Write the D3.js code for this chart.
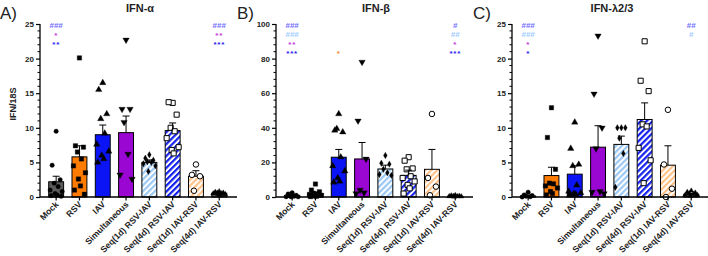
<!DOCTYPE html>
<html><head><meta charset="utf-8">
<script src="https://cdn.jsdelivr.net/npm/d3@7"></script>
<style>
body{margin:0;background:#fff;}
svg{display:block;font-family:"Liberation Sans",Arial,sans-serif;}
</style></head>
<body>
<svg id="chart" width="708" height="256"></svg>
<script>
// ---------- DATA ----------
const categories = ["Mock","RSV","IAV","Simultaneous","Seq(1d) RSV-IAV","Seq(4d) RSV-IAV","Seq(1d) IAV-RSV","Seq(4d) IAV-RSV"];

const alphaMean = [2.2, 5.8, 9.0, 9.3, 5.0, 9.6, 3.0, 0.55];
const alphaSem  = [0.8, 1.6, 1.4, 2.4, 0.35, 1.1, 0.8, 0.12];
const alphaPoints = [
  [9.5, 4.6, 2.5, 2.0, 1.5, 1.0, 0.8, 0.5, 0.3, 0.2, 0.1],
  [20.1, 7.4, 7.2, 6.5, 5.5, 4.5, 3.5, 2.6, 1.6, 1.0, 0.4],
  [16.5, 15.5, 12.0, 11.3, 9.2, 7.6, 6.6, 6.0, 5.5, 5.0],
  [22.7, 12.7, 12.7, 10.8, 6.2, 3.2, 2.6],
  [6.1, 5.6, 5.3, 5.1, 5.0, 4.8, 4.5, 3.7],
  [13.6, 13.7, 11.9, 10.0, 9.5, 8.5, 7.2, 6.8, 6.3],
  [4.7, 3.2, 3.0, 0.9],
  [0.8, 0.7, 0.6, 0.6, 0.5, 0.5, 0.4, 0.4, 0.3]
];
const alphaTicks = [0, 5, 10, 15, 20, 25];
const alphaSig = [
  ["Mock", 0, "###", "hash"], ["Mock", 1, "*", "mag"], ["Mock", 2, "**", "blue"],
  ["Seq(4d) IAV-RSV", 0, "###", "hash"], ["Seq(4d) IAV-RSV", 1, "**", "mag"], ["Seq(4d) IAV-RSV", 2, "***", "blue"]
];

const betaMean = [0.8, 2.0, 23.0, 22.0, 16.2, 12.5, 16.0, 0.5];
const betaSem  = [0.4, 0.7, 4.5, 9.5, 2.2, 3.0, 11.5, 0.2];
const betaPoints = [
  [2.5, 1.8, 1.0, 0.6, 0.4, 0.2, 0.1, 0.1],
  [7.5, 4.0, 3.0, 2.2, 1.8, 1.5, 1.0, 0.6, 0.4, 0.2],
  [48, 38.5, 37.5, 39.5, 23, 18, 15, 11, 9, 8.5],
  [78, 44, 22, 4, 2.5, 2],
  [24, 19.5, 19, 16, 14, 13, 12.5],
  [23, 21, 16.5, 16, 12, 11, 9, 7, 5, 2],
  [48, 11, 6, 1],
  [1.0, 0.8, 0.6, 0.5, 0.4, 0.4, 0.3, 0.2]
];
const betaTicks = [0, 20, 40, 60, 80, 100];
const betaSig = [
  ["Mock", 0, "###", "hash"], ["Mock", 1, "###", "light"], ["Mock", 2, "**", "mag"], ["Mock", 3, "***", "blue"],
  ["IAV", 3, "*", "orange"],
  ["Seq(4d) IAV-RSV", 0, "#", "hash"], ["Seq(4d) IAV-RSV", 1, "##", "light"], ["Seq(4d) IAV-RSV", 2, "*", "mag"], ["Seq(4d) IAV-RSV", 3, "***", "blue"]
];

const lambdaMean = [0.15, 3.1, 3.3, 7.2, 7.6, 11.2, 4.6, 0.4];
const lambdaSem  = [0.12, 1.2, 1.2, 3.1, 1.2, 2.4, 2.8, 0.1];
const lambdaPoints = [
  [0.7, 0.3, 0.2, 0.1, 0.05, 0.0],
  [12.9, 8.6, 4.0, 2.0, 1.9, 1.6, 1.3, 0.8, 0.5, 0.3],
  [10.8, 7.0, 4.7, 4.5, 1.7, 0.8, 0.6, 0.5, 0.4, 0.3],
  [23.3, 14.9, 10.0, 7.0, 0.8, 0.7, 0.5],
  [10.0, 10.0, 10.0, 8.5, 6.3, 1.4],
  [22.5, 16.8, 15.3, 10.5, 10.2, 7.1, 5.3, 2.0],
  [12.6, 4.7, 1.2, 0.0],
  [0.9, 0.7, 0.6, 0.5, 0.4, 0.3, 0.3, 0.2]
];
const lambdaTicks = [0, 5, 10, 15, 20, 25];
const lambdaSig = [
  ["Mock", 0, "###", "hash"], ["Mock", 1, "###", "light"], ["Mock", 2, "*", "mag"], ["Mock", 3, "*", "blue"],
  ["Seq(4d) IAV-RSV", 0, "##", "hash"], ["Seq(4d) IAV-RSV", 1, "#", "light"]
];

// ---------- STYLE ----------
const sigColors = {hash:"#6f6cff", light:"#9ecbff", mag:"#c236d6", blue:"#1f22f0", orange:"#f5861f"};
const barStyles = [
  {fill:"#5c5c5c"}, {fill:"#ff7c00"}, {fill:"#0a14f5"}, {fill:"#9a06d2"},
  {hatch:"#9cc8f4"}, {hatch:"#1420ee"}, {hatch:"#ffc38a"}, {fill:"#6a6a6a"}
];
const markers = [
  {type:d3.symbolCircle, size:16, open:false},
  {type:d3.symbolSquare, size:20, open:false},
  {type:d3.symbolTriangle, size:18, open:false},
  {type:d3.symbolTriangle, size:18, open:false, rot:180},
  {type:d3.symbolDiamond, size:12, open:false},
  {type:d3.symbolSquare, size:26, open:true},
  {type:d3.symbolCircle, size:24, open:true},
  {type:d3.symbolTriangle, size:12, open:false}
];
const jitter = [0, -4, 4, -2, 2, -6, 6, -1, 1, -5, 5, -3, 3];

const svg = d3.select("#chart");
const defs = svg.append("defs");
barStyles.forEach((s, i) => {
  if (!s.hatch) return;
  const p = defs.append("pattern").attr("id", "h" + i).attr("patternUnits", "userSpaceOnUse")
    .attr("width", 4.2).attr("height", 4.2).attr("patternTransform", "rotate(45)");
  p.append("rect").attr("width", 4.2).attr("height", 4.2).attr("fill", "#fff");
  p.append("rect").attr("width", 2.2).attr("height", 4.2).attr("fill", s.hatch);
});

const panels = [
  {label:"A)", title:"IFN-\u03b1", axisX:40, max:25, ticks:alphaTicks, minor:1, mean:alphaMean, sem:alphaSem, pts:alphaPoints, sig:alphaSig, lx:0, ylabel:true},
  {label:"B)", title:"IFN-\u03b2", axisX:276, max:100, ticks:betaTicks, minor:4, mean:betaMean, sem:betaSem, pts:betaPoints, sig:betaSig, lx:237},
  {label:"C)", title:"IFN-\u03bb2/3", axisX:512, max:25, ticks:lambdaTicks, minor:1, mean:lambdaMean, sem:lambdaSem, pts:lambdaPoints, sig:lambdaSig, lx:473}
];

const yBottom = 197, yTop = 24, step = 23.3, rowStep = 9;

panels.forEach(P => {
  const g = svg.append("g");
  const x = d3.scaleBand().domain(categories)
    .range([P.axisX + 4.5, P.axisX + 4.5 + step * categories.length]).paddingInner(0.36).paddingOuter(0.18);
  const y = d3.scaleLinear().domain([0, P.max]).range([yBottom, yTop]);
  const xc = c => x(c) + x.bandwidth() / 2;

  // panel label & title
  g.append("text").attr("x", P.lx).attr("y", 19).attr("font-size", 17).attr("fill", "#222").text(P.label);
  const midX = P.axisX + 100;
  g.append("text").attr("x", midX).attr("y", 12).attr("text-anchor", "middle")
    .attr("font-size", 11).attr("font-weight", "bold").attr("fill", "#222").text(P.title);

  // bars
  categories.forEach((c, i) => {
    const s = barStyles[i];
    const top = y(P.mean[i]);
    g.append("rect").attr("x", x(c)).attr("y", top).attr("width", x.bandwidth()).attr("height", yBottom - top)
      .attr("fill", s.hatch ? "url(#h" + i + ")" : s.fill).attr("stroke", "#000").attr("stroke-width", 1);
  });

  // points
  categories.forEach((c, i) => {
    const m = markers[i];
    const sym = d3.symbol().type(m.type).size(m.size);
    g.selectAll(null).data(P.pts[i]).enter().append("path")
      .attr("d", sym)
      .attr("transform", (v, k) => `translate(${xc(c) + jitter[k % jitter.length]},${y(v)})` + (m.rot ? ` rotate(${m.rot})` : ""))
      .attr("fill", m.open ? "#fff" : "#000").attr("stroke", "#000").attr("stroke-width", m.open ? 1 : 0.3);
  });

  // error bars (upper only)
  categories.forEach((c, i) => {
    const y1 = y(P.mean[i]), y2 = y(P.mean[i] + P.sem[i]);
    g.append("line").attr("x1", xc(c)).attr("x2", xc(c)).attr("y1", y1).attr("y2", y2).attr("stroke", "#000").attr("stroke-width", 1);
    g.append("line").attr("x1", xc(c) - 3.5).attr("x2", xc(c) + 3.5).attr("y1", y2).attr("y2", y2).attr("stroke", "#000").attr("stroke-width", 1);
  });

  // y axis
  const yAxis = d3.axisLeft(y).tickValues(P.ticks).tickSize(4).tickPadding(2);
  const ya = g.append("g").attr("transform", `translate(${P.axisX},0)`).call(yAxis);
  ya.select(".domain").attr("stroke", "#000").attr("stroke-width", 1.3).attr("d", `M0,${yBottom}V${yTop}`);
  ya.selectAll(".tick line").attr("stroke", "#000").attr("stroke-width", 1.2);
  ya.selectAll(".tick text").attr("font-size", 8).attr("font-weight", "bold").attr("fill", "#222").attr("font-family", "Liberation Sans, Arial, sans-serif");
  const minors = d3.range(0, P.max + 0.001, P.minor).filter(v => !P.ticks.includes(v));
  g.selectAll(null).data(minors).enter().append("line")
    .attr("x1", P.axisX - 2.5).attr("x2", P.axisX).attr("y1", d => y(d)).attr("y2", d => y(d))
    .attr("stroke", "#000").attr("stroke-width", 1);

  // x axis
  g.append("line").attr("x1", P.axisX).attr("x2", P.axisX + 197).attr("y1", yBottom).attr("y2", yBottom)
    .attr("stroke", "#000").attr("stroke-width", 1.3);
  categories.forEach(c => {
    g.append("line").attr("x1", xc(c)).attr("x2", xc(c)).attr("y1", yBottom).attr("y2", yBottom + 3.5).attr("stroke", "#000").attr("stroke-width", 1.2);
    g.append("text").attr("transform", `translate(${xc(c) + 3},${yBottom + 8}) rotate(-45)`)
      .attr("text-anchor", "end").attr("font-size", 8.7).attr("font-weight", "bold").attr("fill", "#222").text(c);
  });

  // significance marks (row centres stacked from top of axis)
  P.sig.forEach(([c, row, txt, col]) => {
    const centre = yTop + 1 + row * rowStep;
    const isStar = txt.startsWith("*");
    g.append("text").attr("x", xc(c)).attr("y", centre + (isStar ? 4.2 : 2.8))
      .attr("text-anchor", "middle").attr("font-size", 8).attr("font-weight", "bold")
      .attr("fill", sigColors[col]).attr("letter-spacing", isStar ? 0.8 : 0)
      .text(txt);
  });

  if (P.ylabel) {
    g.append("text").attr("transform", `translate(16,104) rotate(-90)`).attr("text-anchor", "middle")
      .attr("font-size", 9).attr("font-weight", "bold").attr("fill", "#222").text("IFN/18S");
  }
});
</script>
</body></html>
